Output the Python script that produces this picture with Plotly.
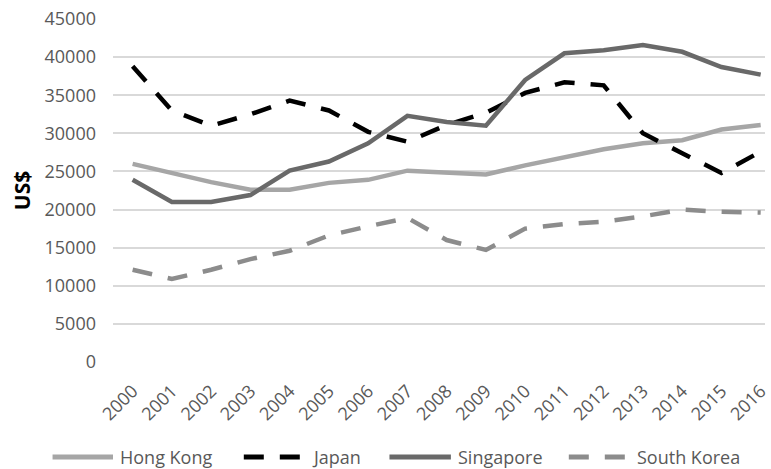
import plotly.graph_objects as go

years = [str(y) for y in range(2000, 2017)]

hong_kong = [26000, 24800, 23600, 22600, 22600, 23500, 23900, 25100, 24900, 24600,
             25800, 26900, 27900, 28700, 29100, 30500, 31100]
japan = [38800, 33000, 31000, 32500, 34300, 33000, 30200, 28900, 31100, 32700,
         35300, 36700, 36300, 30000, 27400, 24800, 27600]
singapore = [23900, 21000, 21000, 21900, 25100, 26300, 28700, 32300, 31500, 31000,
             37000, 40500, 40900, 41600, 40700, 38700, 37700]
south_korea = [12100, 10900, 12100, 13500, 14600, 16600, 17800, 18900, 16000, 14700,
               17500, 18100, 18400, 19100, 20000, 19700, 19600]

y_ticks = list(range(0, 45001, 5000))

series = [
    ("Hong Kong", hong_kong, "#a6a6a6", "solid"),
    ("Japan", japan, "#000000", "20px,16px"),
    ("Singapore", singapore, "#696969", "solid"),
    ("South Korea", south_korea, "#8c8c8c", "20px,16px"),
]

FONT = "Open Sans"
W, H = 771, 469
ML, MR, MT, MB = 113, 0, 19, 107
PW, PH = W - ML - MR, H - MT - MB

fig = go.Figure()
for name, vals, color, dash in series:
    fig.add_trace(go.Scatter(
        x=years, y=vals, name=name, mode="lines",
        line=dict(color=color, width=4.5, dash=dash),
        showlegend=False,
    ))


def px_x(px):
    return (px - ML) / PW


def px_y(py):
    return (H - MB - py) / PH


# legend row along the bottom: sample line + label for each series
legend_row_y = 457
legend_slots = [(52, 113, 118), (245, 306, 312), (392, 454, 459), (573, 634, 640)]
shapes = []
annotations = []
for (name, _, color, dash), (x0, x1, tx) in zip(series, legend_slots):
    shapes.append(dict(
        type="line", xref="paper", yref="paper",
        x0=px_x(x0), x1=px_x(x1), y0=px_y(legend_row_y), y1=px_y(legend_row_y),
        line=dict(color=color, width=5, dash=dash),
    ))
    annotations.append(dict(
        text=name, xref="paper", yref="paper", x=px_x(tx), y=px_y(legend_row_y),
        xanchor="left", yanchor="middle", showarrow=False,
        font=dict(family=FONT, size=18, color="#595959"),
    ))

fig.update_layout(
    width=W, height=H,
    margin=dict(l=ML, r=MR, t=MT, b=MB),
    paper_bgcolor="white", plot_bgcolor="white",
    font=dict(family=FONT, size=18, color="#595959"),
    showlegend=False,
    shapes=shapes,
    annotations=annotations,
)
fig.update_xaxes(
    type="category", range=[-0.5, 16.11], tickangle=-45,
    showgrid=False, showline=False, ticks="", ticklabelstandoff=14,
    tickfont=dict(family=FONT, size=18, color="#595959"),
)
fig.update_yaxes(
    range=[0, 45000], tickvals=y_ticks, ticktext=[str(v) for v in y_ticks],
    showgrid=True, gridcolor="#d9d9d9", gridwidth=1.5,
    zeroline=False, showline=False, ticks="", ticklabelstandoff=16,
    tickfont=dict(family=FONT, size=18, color="#595959"),
    title=dict(text="<b>US$</b>", font=dict(family=FONT, size=21, color="#000000"),
               standoff=8),
)

fig.write_html("out.html")
